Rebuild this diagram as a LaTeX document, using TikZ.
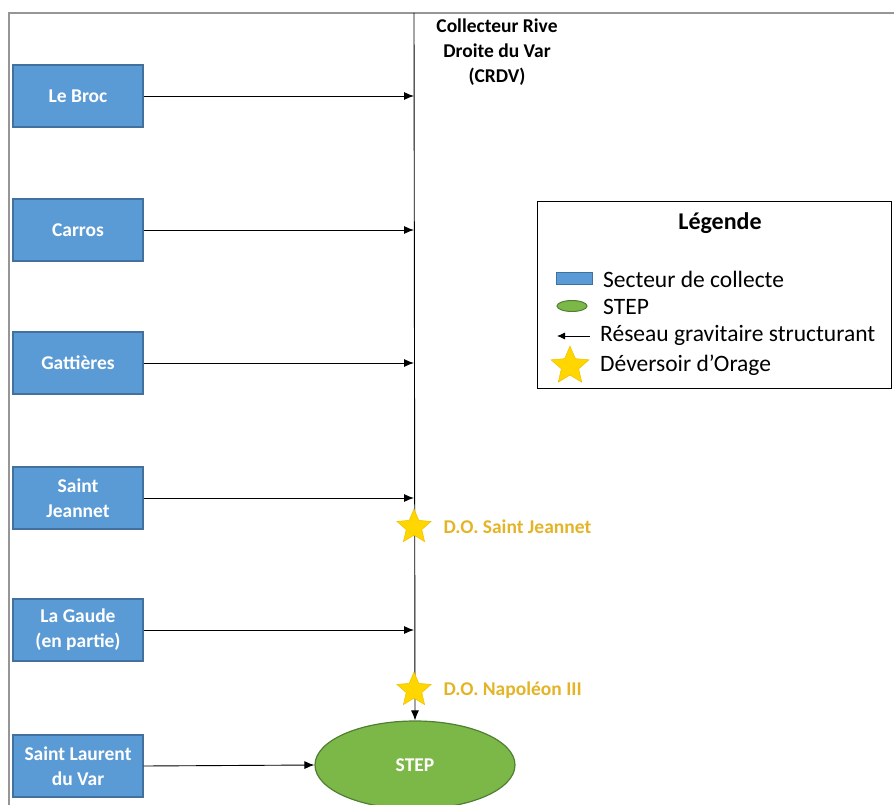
\documentclass[tikz,border=0pt]{standalone}
\usepackage{fontspec}
\setmainfont{Carlito}
\usetikzlibrary{shapes.geometric,arrows.meta}
\definecolor{secfill}{RGB}{91,155,213}
\definecolor{secborder}{RGB}{65,113,156}
\definecolor{stepfill}{RGB}{124,184,72}
\definecolor{stepborder}{RGB}{80,126,50}
\definecolor{starfill}{RGB}{255,214,0}
\definecolor{starborder}{RGB}{240,190,0}
\definecolor{dogold}{RGB}{228,180,40}
\definecolor{framegray}{RGB}{150,150,150}
\begin{document}
\begin{tikzpicture}[x=1pt,y=-1pt,
  sector/.style={draw=secborder, fill=secfill, line width=1.2pt, minimum width=130pt, minimum height=62pt, text=white, font=\bfseries\fontsize{19.5}{25}\selectfont, align=center, inner sep=2pt},
  flow/.style={-{Latex[length=10pt,width=8pt]}, line width=0.9pt},
  dostar/.style={star, star points=5, star point ratio=2.2, fill=starfill, draw=starborder, line width=0.5pt, minimum size=36pt, inner sep=0pt},
  dolabel/.style={text=dogold, font=\bfseries\fontsize{19.5}{22}\selectfont, anchor=west},
  legtext/.style={anchor=west, font=\fontsize{23.5}{26}\selectfont, inner sep=0pt}
]
\useasboundingbox (0,0) rectangle (894,805);
% frame
\draw[framegray, line width=1.5pt] (9,806) -- (9,13) -- (895,13);

% header
\node[font=\bfseries\fontsize{19.5}{25}\selectfont, align=center] (hdr) at (497,52) {Collecteur Rive\\Droite du Var\\(CRDV)};

% sectors
\node[sector] (lebroc) at (78,96) {Le Broc};
\node[sector] (carros) at (78,230) {Carros};
\node[sector] (gatt) at (78,363) {Gattières};
\node[sector] (sj) at (78,498) {Saint\\Jeannet};
\node[sector] (lg) at (78,630) {La Gaude\\(en partie)};
\node[sector] (slv) at (78,766) {Saint Laurent\\du Var};

% STEP
\node[ellipse, draw=stepborder, fill=stepfill, line width=1.2pt, minimum width=200pt, minimum height=88pt, text=white, font=\bfseries\fontsize{19.5}{22}\selectfont] (step) at (415,765) {STEP};

% collector
\coordinate (ctop) at (414,13);
\draw[flow] (ctop) -- (step.north);

% inflows
\foreach \n in {lebroc,carros,gatt,sj,lg}{
  \draw[flow] (\n.east) -- (\n.east -| ctop);
}
\draw[flow] (slv.east) -- (step.west);

% overflow weirs
\node[dostar] (do1) at (414,527) {};
\node[dolabel] (do1l) at (440,527) {D.O. Saint Jeannet};
\node[dostar] (do2) at (414,690) {};
\node[dolabel] (do2l) at (440,690) {D.O. Napoléon III};

% legend
\node[draw=black, line width=1pt, minimum width=354pt, minimum height=186pt, inner sep=0pt] (leg) at (714,295) {};
\node[font=\bfseries\fontsize{24}{28}\selectfont] (legt) at (720,223) {Légende};
\node[draw=secborder, fill=secfill, line width=1pt, minimum width=36pt, minimum height=12pt, inner sep=0pt] (lsec) at (574,278) {};
\node[legtext] (lsect) at (603,279) {Secteur de collecte};
\node[ellipse, draw=stepborder, fill=stepfill, line width=1pt, minimum width=30pt, minimum height=11pt, inner sep=0pt] (lstep) at (572,306) {};
\node[legtext] (lstept) at (603,307) {STEP};
\coordinate (la1) at (590,336);
\coordinate (la2) at (557,336);
\draw[-{Latex[length=8pt,width=7pt]}, line width=0.8pt] (la1) -- (la2);
\node[legtext] (lart) at (600,335) {Réseau gravitaire structurant};
\node[dostar, minimum size=40pt] (lstar) at (570,366) {};
\node[legtext] (lstart) at (600,365) {Déversoir d’Orage};
\end{tikzpicture}
\end{document}
